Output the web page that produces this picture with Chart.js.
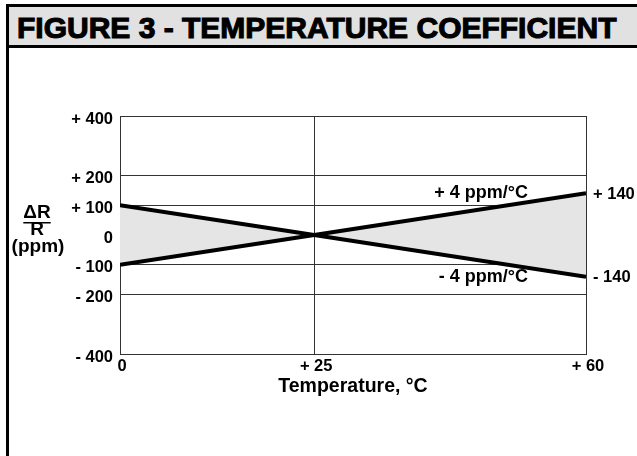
<!DOCTYPE html>
<html>
<head>
<meta charset="utf-8">
<script src="https://cdn.jsdelivr.net/npm/chart.js@4"></script>
<style>
  html, body { margin: 0; padding: 0; background: #fff; width: 637px; height: 456px; overflow: hidden; }
  #wrap { position: relative; width: 637px; height: 456px; }
  canvas { position: absolute; left: 0; top: 0; }
  .blk { position: absolute; background: #000; }
  #titlebar { position: absolute; left: 9px; top: 7px; width: 628px; height: 38px; background: #e1e1e1; }
  #title { position: absolute; left: 17px; top: 13px; font: bold 30px 'Liberation Sans', Arial, Helvetica, sans-serif;
           line-height: 1; white-space: nowrap; color: #000; -webkit-text-stroke: 1.1px #000; }
</style>
</head>
<body>
<div id="wrap">
  <div id="titlebar"></div>
  <div class="blk" style="left:6px;top:4px;width:631px;height:3px;"></div>
  <div class="blk" style="left:6px;top:45px;width:631px;height:3px;"></div>
  <div class="blk" style="left:6px;top:4px;width:3px;height:452px;"></div>
  <div id="title">FIGURE 3 - TEMPERATURE COEFFICIENT</div>
  <canvas id="c" width="637" height="456"></canvas>
</div>
<script>
// ---- data ----
const temps = [0, 25, 60];                 // °C
const seriesMinus = [100, 0, -140];        // -4 ppm/°C line
const seriesPlus = [-100, 0, 140];         // +4 ppm/°C line
const seriesLabels = ['- 4 ppm/°C', '+ 4 ppm/°C'];
const endLabels = ['- 140', '+ 140'];
const yTickValues = [400, 200, 100, 0, -100, -200, -400];
const yTickLabels = ['+ 400', '+ 200', '+ 100', '0', '- 100', '- 200', '- 400'];
const xTickValues = [0, 25, 60];
const xTickLabels = ['0', '+ 25', '+ 60'];
const xTitle = 'Temperature, °C';
const yTitleLines = ['ΔR', 'R', '(ppm)'];

const FONT = "'Liberation Sans', Arial, Helvetica, sans-serif";
const GRID = '#333333';

const toPts = (vals) => temps.map((t, i) => ({ x: t, y: vals[i] }));

const annotate = {
  id: 'annotate',
  afterDraw(chart) {
    const { ctx, chartArea, scales } = chart;
    const y = scales.y;
    const series = [seriesMinus, seriesPlus];
    ctx.save();
    ctx.fillStyle = '#000';
    ctx.textBaseline = 'middle';
    series.forEach((s, i) => {
      const py = y.getPixelForValue(s[s.length - 1]);
      ctx.font = 'bold 16.5px ' + FONT;
      ctx.textAlign = 'left';
      ctx.fillText(endLabels[i], chartArea.right + 7, py + 1);
      ctx.font = 'bold 18px ' + FONT;
      ctx.textAlign = 'right';
      ctx.fillText(seriesLabels[i], chartArea.right - 58, py);
    });
    // y-axis title: ΔR over R (ppm)
    const cx = 37;
    ctx.font = 'bold 19px ' + FONT;
    ctx.textAlign = 'center';
    ctx.fillText(yTitleLines[0], cx, 213);
    const w = ctx.measureText(yTitleLines[0]).width;
    ctx.fillRect(cx - w / 2, 222, w, 1.5);
    ctx.fillText(yTitleLines[1], cx, 230);
    ctx.fillText(yTitleLines[2], cx + 1, 247);
    ctx.restore();
  }
};

new Chart(document.getElementById('c'), {
  type: 'line',
  data: {
    datasets: [
      { data: toPts(seriesMinus), borderColor: '#000', borderWidth: 4, pointRadius: 0, fill: false, tension: 0 },
      { data: toPts(seriesPlus), borderColor: '#000', borderWidth: 4, pointRadius: 0, tension: 0,
        fill: '-1', backgroundColor: '#e5e5e5' }
    ]
  },
  options: {
    responsive: false,
    animation: false,
    devicePixelRatio: 1,
    layout: { padding: { left: 0, top: 116, right: 51, bottom: 32 } },
    plugins: { legend: { display: false }, tooltip: { enabled: false }, title: { display: false } },
    scales: {
      x: {
        type: 'linear', min: 0, max: 60, z: 1,
        afterBuildTicks: (s) => { s.ticks = xTickValues.map(v => ({ value: v })); },
        afterFit: (s) => { s.height = 70; },
        grid: { color: GRID, lineWidth: 1, drawTicks: false },
        border: { color: GRID, width: 1 },
        ticks: { padding: 3, labelOffset: 2, color: '#000', font: { family: FONT, size: 16.5, weight: 'bold' },
                 maxRotation: 0, autoSkip: false,
                 callback: (v, i) => xTickLabels[i] },
        title: { display: true, text: xTitle, color: '#000', font: { family: FONT, size: 19.5, weight: 'bold' },
                 padding: { top: 0, bottom: 26 } }
      },
      y: {
        type: 'linear', min: -400, max: 400, z: 1,
        afterBuildTicks: (s) => { s.ticks = yTickValues.map(v => ({ value: v })); },
        afterFit: (s) => { s.width = 120; },
        grid: { color: GRID, lineWidth: 1, drawTicks: false },
        border: { color: GRID, width: 1 },
        ticks: { padding: 7, labelOffset: 3, color: '#000', font: { family: FONT, size: 16.5, weight: 'bold' },
                 autoSkip: false,
                 callback: (v, i) => yTickLabels[i] }
      }
    }
  },
  plugins: [annotate]
});
</script>
</body>
</html>
